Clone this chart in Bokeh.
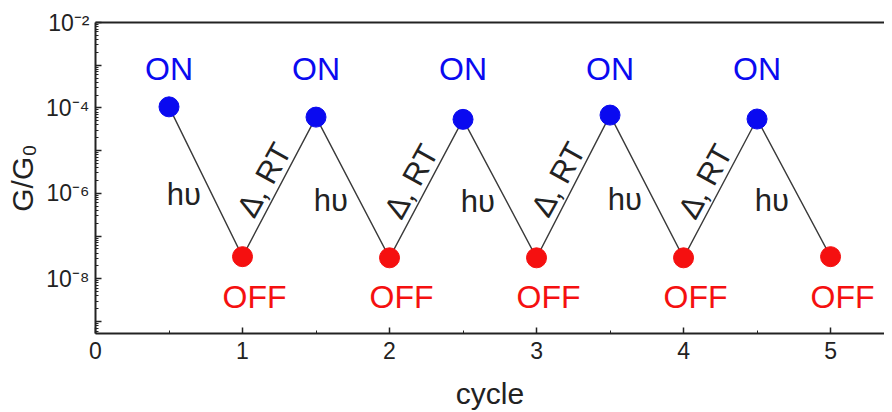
import numpy as np
from bokeh.plotting import figure
from bokeh.models import (Range1d, FixedTicker, CustomJSTickFormatter, LinearAxis)
from bokeh.core.properties import value
from bokeh.embed import file_html
from bokeh.resources import INLINE

# ---- data ----
on_x = [0.5, 1.5, 2.5, 3.5, 4.5]
on_y = [1.06e-4, 6.1e-5, 5.4e-5, 6.8e-5, 5.5e-5]
off_x = [1, 2, 3, 4, 5]
off_y = [3.3e-8, 3.1e-8, 3.1e-8, 3.1e-8, 3.3e-8]
x_ticks = [0, 1, 2, 3, 4, 5]
y_exponents = [-2, -3, -4, -5, -6, -7, -8, -9]

on_label_level = 8.0e-4
off_label_level = 3.8e-9

FONT = "Liberation Sans"

p = figure(width=884, height=412, output_backend="svg", toolbar_location=None,
           y_axis_type="log",
           x_range=Range1d(0, 5.367), y_range=Range1d(10 ** -9.28, 1e-2),
           min_border_left=95, min_border_right=0, min_border_top=22,
           min_border_bottom=78)
p.grid.visible = False
p.outline_line_color = None
p.background_fill_color = "white"
p.border_fill_color = "white"

# zig-zag line
seq_x, seq_y = [], []
for a, b, c, d in zip(on_x, on_y, off_x, off_y):
    seq_x += [a, c]
    seq_y += [b, d]
p.line(seq_x, seq_y, line_color="#3a3a3a", line_width=1.4)

p.scatter(on_x, on_y, size=20, color="#0a0af0")
p.scatter(off_x, off_y, size=20, color="#f51010")

# ON / OFF labels
p.text(on_x, [on_label_level] * len(on_x), text=["ON"] * len(on_x),
       text_font=value(FONT), text_font_size="32px", text_color="#0a0af0",
       text_align="center", text_baseline="middle")
p.text(off_x, [off_label_level] * len(off_x), text=["OFF"] * len(off_x),
       text_font=value(FONT), text_font_size="32px", text_color="#f51010",
       text_align="center", text_baseline="middle", x_offset=12)

# h-upsilon on descending segments (midpoints)
hv_x = [(a + c) / 2 for a, c in zip(on_x, off_x)]
hv_y = [np.sqrt(b * d) for b, d in zip(on_y, off_y)]
p.text(hv_x, hv_y, text=["h\u03c5"] * len(hv_x),
       text_font=value(FONT), text_font_size="31px", text_color="#222222",
       text_align="center", text_baseline="middle", x_offset=-22, y_offset=13)

# Delta, RT on ascending segments
rt_x = [(c + a) / 2 for c, a in zip(off_x[:-1], on_x[1:])]
rt_y = [np.sqrt(d * b) for d, b in zip(off_y[:-1], on_y[1:])]
p.text(rt_x, rt_y, text=["\u0394, RT"] * len(rt_x),
       text_font=value(FONT), text_font_size="31px", text_color="#222222",
       text_align="center", text_baseline="middle", angle=61, angle_units="deg",
       x_offset=-15, y_offset=-7)

# axes
xa = p.xaxis[0]
xa.ticker = FixedTicker(ticks=x_ticks, minor_ticks=[t + 0.5 for t in x_ticks])
xa.axis_label = "cycle"
ya = p.yaxis[0]
ya.ticker = FixedTicker(ticks=[10.0 ** e for e in y_exponents],
                        minor_ticks=[m * 10.0 ** e for e in y_exponents + [-10]
                                     for m in range(2, 10)])
ya.formatter = CustomJSTickFormatter(code="""
const n = Math.round(Math.log10(tick));
if (n % 2 != 0) return "";
const sup = {"-":"\u207b","0":"\u2070","1":"\u00b9","2":"\u00b2","3":"\u00b3","4":"\u2074","5":"\u2075","6":"\u2076","7":"\u2077","8":"\u2078","9":"\u2079"};
return "10" + String(n).split("").map(c => sup[c]).join("");
""")
ya.axis_label = "G/G\u2080"

for ax in (xa, ya):
    ax.axis_line_width = 2
    ax.axis_line_color = "#222222"
    ax.major_tick_in = 6
    ax.major_tick_out = 0
    ax.minor_tick_in = 3
    ax.minor_tick_out = 0
    ax.major_tick_line_width = 1.5
    ax.major_tick_line_color = "#222222"
    ax.minor_tick_line_color = "#222222"
    ax.major_label_text_font = FONT
    ax.major_label_text_font_size = "23px"
    ax.major_label_text_color = "#222222"
    ax.axis_label_text_font = FONT
    ax.axis_label_text_font_size = "30px"
    ax.axis_label_text_font_style = "normal"
    ax.axis_label_text_color = "#222222"
xa.major_label_standoff = 8
xa.axis_label_standoff = 15
ya.major_label_standoff = 6
ya.axis_label_standoff = 4

# top border line
top = LinearAxis(ticker=FixedTicker(ticks=[]), axis_line_width=2,
                 axis_line_color="#222222", major_tick_line_color=None,
                 minor_tick_line_color=None, major_label_text_font_size="0px")
p.add_layout(top, "above")

open("out.html", "w").write(file_html(p, INLINE))
